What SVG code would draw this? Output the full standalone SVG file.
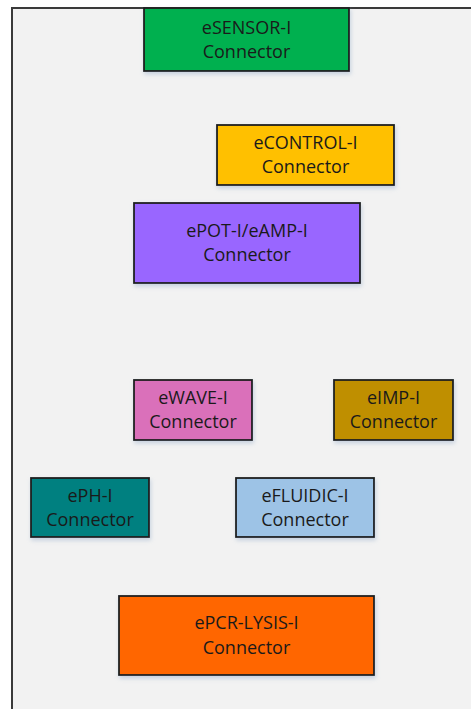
<svg xmlns="http://www.w3.org/2000/svg" width="471" height="709" viewBox="0 0 471 709">
<defs>
<filter id="sh" x="-10%" y="-10%" width="130%" height="140%">
<feDropShadow dx="1" dy="2.5" stdDeviation="2" flood-color="#8fa8c8" flood-opacity="0.45"/>
</filter>
</defs>
<style>
.box{stroke:#1e1e1e;stroke-width:1.8;filter:url(#sh)}
.t{font-family:"Open Sans","Noto Sans",sans-serif;font-size:18px;fill:#1a1a1a;text-anchor:middle}
</style>
<rect x="0" y="0" width="471" height="709" fill="#ffffff"/>
<rect id="panel" x="12" y="8" width="480" height="720" fill="#f2f2f2" stroke="#3a3a3a" stroke-width="2"/>
<g id="connectors"></g>
<g id="esensor">
<rect class="box" x="144" y="8" width="205" height="63" fill="#00b050"/>
<text class="t" x="246.5" y="33.5">eSENSOR-I</text>
<text class="t" x="246.5" y="57.5">Connector</text>
</g>
<g id="econtrol">
<rect class="box" x="217" y="125" width="177" height="60" fill="#ffc000"/>
<text class="t" x="305.5" y="149">eCONTROL-I</text>
<text class="t" x="305.5" y="173">Connector</text>
</g>
<g id="epot">
<rect class="box" x="134" y="203" width="226" height="80" fill="#9966ff"/>
<text class="t" x="247" y="237">ePOT-I/eAMP-I</text>
<text class="t" x="247" y="261">Connector</text>
</g>
<g id="ewave">
<rect class="box" x="134" y="380" width="118" height="60" fill="#da70ba"/>
<text class="t" x="193" y="404">eWAVE-I</text>
<text class="t" x="193" y="428">Connector</text>
</g>
<g id="eimp">
<rect class="box" x="334" y="380" width="119" height="60" fill="#bf8f00"/>
<text class="t" x="393.5" y="404">eIMP-I</text>
<text class="t" x="393.5" y="428">Connector</text>
</g>
<g id="eph">
<rect class="box" x="31" y="478" width="118" height="59" fill="#008080"/>
<text class="t" x="90" y="502">ePH-I</text>
<text class="t" x="90" y="526">Connector</text>
</g>
<g id="efluidic">
<rect class="box" x="236" y="478" width="138" height="59" fill="#9dc3e6"/>
<text class="t" x="305" y="502">eFLUIDIC-I</text>
<text class="t" x="305" y="526">Connector</text>
</g>
<g id="epcr">
<rect class="box" x="119" y="596" width="255" height="79" fill="#ff6600"/>
<text class="t" x="246.5" y="629">ePCR-LYSIS-I</text>
<text class="t" x="246.5" y="654">Connector</text>
</g>
</svg>
